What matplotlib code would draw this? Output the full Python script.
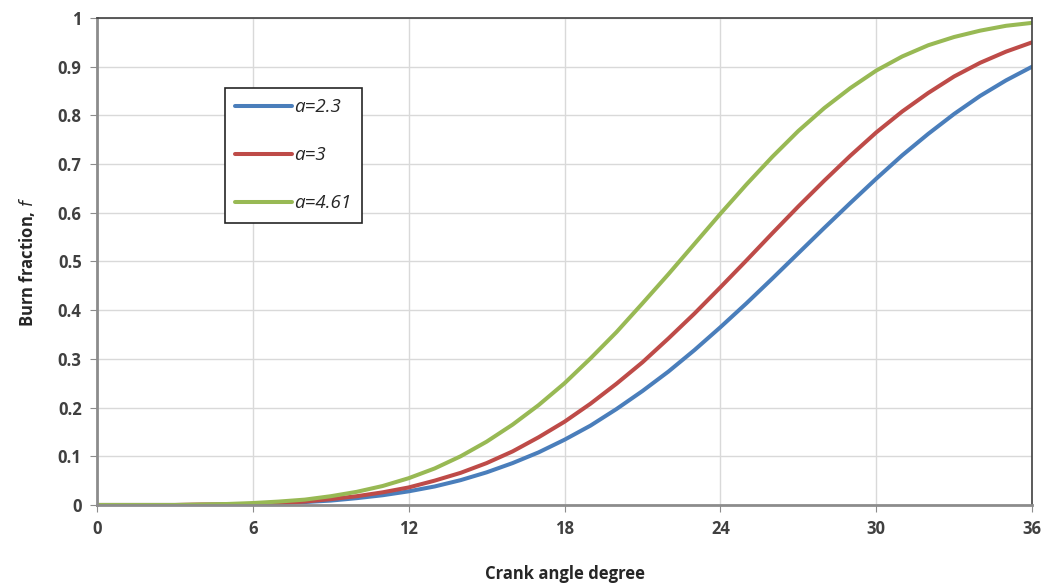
import matplotlib.pyplot as plt

# ---------------------------------------
# Data (every crank degree)
# ---------------------------------------
crank_angle = list(range(0, 37))

burn_a23 = [0, 0, 0, 0, 0, 0.001, 0.002, 0.004, 0.006, 0.009, 0.014, 0.020, 0.028,
            0.038, 0.051, 0.067, 0.086, 0.108, 0.134, 0.163, 0.197, 0.234, 0.274,
            0.318, 0.365, 0.414, 0.465, 0.517, 0.569, 0.620, 0.670, 0.718, 0.762,
            0.803, 0.840, 0.872, 0.900]
burn_a3 = [0, 0, 0, 0, 0.001, 0.001, 0.002, 0.004, 0.007, 0.012, 0.018, 0.026, 0.036,
           0.050, 0.066, 0.086, 0.110, 0.139, 0.171, 0.208, 0.249, 0.293, 0.342,
           0.393, 0.447, 0.502, 0.558, 0.613, 0.666, 0.717, 0.765, 0.808, 0.846,
           0.880, 0.908, 0.931, 0.950]
burn_a461 = [0, 0, 0, 0, 0.001, 0.002, 0.004, 0.007, 0.011, 0.018, 0.027, 0.039, 0.055,
             0.075, 0.100, 0.130, 0.165, 0.205, 0.250, 0.301, 0.355, 0.414, 0.474,
             0.536, 0.598, 0.658, 0.715, 0.768, 0.815, 0.856, 0.892, 0.921, 0.944,
             0.961, 0.974, 0.984, 0.990]

series_labels = ["a=2.3", "a=3", "a=4.61"]
series_colors = ["#4a7ebb", "#be4b48", "#98b954"]

x_ticks = [0, 6, 12, 18, 24, 30, 36]
y_ticks = [0, 0.1, 0.2, 0.3, 0.4, 0.5, 0.6, 0.7, 0.8, 0.9, 1]
y_tick_labels = ["0", "0.1", "0.2", "0.3", "0.4", "0.5", "0.6", "0.7", "0.8", "0.9", "1"]

# ---------------------------------------
# Plot
# ---------------------------------------
plt.rcParams["font.family"] = ["Open Sans", "DejaVu Sans"]

fig = plt.figure(figsize=(10.51, 5.88), dpi=100)
ax = fig.add_axes([0.0923, 0.1412, 0.8897, 0.8282])

for ys, lab, col in zip([burn_a23, burn_a3, burn_a461], series_labels, series_colors):
    ax.plot(crank_angle, ys, color=col, linewidth=2.9, label=lab, solid_capstyle="round")

ax.set_xlim(0, 36)
ax.set_ylim(0, 1)
ax.set_xticks(x_ticks)
ax.set_yticks(y_ticks)
ax.set_yticklabels(y_tick_labels)

ax.grid(True, color="#d9d9d9", linewidth=1)
ax.set_axisbelow(True)

for side in ["top", "right"]:
    ax.spines[side].set_color("#404040")
    ax.spines[side].set_linewidth(1.2)
for side in ["left", "bottom"]:
    ax.spines[side].set_color("#8c8c8c")
    ax.spines[side].set_linewidth(2)

ax.tick_params(axis="both", direction="out", length=5, color="#8c8c8c",
               labelsize=12, labelcolor="#404040", pad=6)
for t in ax.get_xticklabels() + ax.get_yticklabels():
    t.set_fontweight("bold")

ax.set_xlabel("Crank angle degree", fontsize=12, fontweight="bold", color="#262626", labelpad=19)
ax.set_ylabel(r"Burn fraction, $\mathit{f}$", fontsize=12, fontweight="bold", color="#262626", labelpad=15)

leg = ax.legend(loc="upper left", bbox_to_anchor=(0.137, 0.856), borderaxespad=0,
                fancybox=False, edgecolor="#262626", framealpha=1,
                handlelength=3.0, handletextpad=0.15,
                labelspacing=1.6, borderpad=0.55,
                prop={"size": 13.5, "style": "italic"})
leg.get_frame().set_linewidth(1.2)
for t in leg.get_texts():
    t.set_color("#262626")

plt.savefig("out.png", dpi=100)
